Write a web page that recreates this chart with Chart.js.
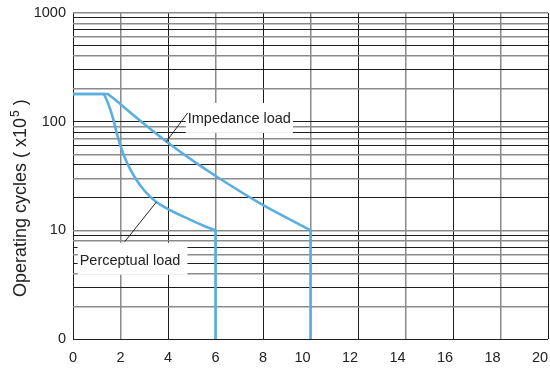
<!DOCTYPE html>
<html>
<head>
<meta charset="utf-8">
<script src="https://cdn.jsdelivr.net/npm/chart.js@4.4.1/dist/chart.umd.min.js"></script>
<style>
  html, body { margin: 0; padding: 0; background: #fff; }
  #wrap { width: 550px; height: 369px; }
</style>
</head>
<body>
<div id="wrap"><canvas id="chart" width="550" height="369"></canvas></div>
<script>
/* ============================================================
   DATA
============================================================ */
const impedanceX = [0, 1.47, 2.0, 2.6, 3.93, 5.12, 6.04, 7.86, 10, 10];
const impedanceY = [180, 180, 145, 112, 65.6, 42.6, 31.3, 17.8, 10, 1];
const impedanceCorners = [1, 8];   // sharp bends (index into the arrays)

const perceptualX = [0, 1.3, 1.48, 1.67, 1.84, 2.01, 2.25, 2.6, 3.02, 3.51, 4.0, 4.84, 5.55, 6, 6];
const perceptualY = [180, 180, 147, 110, 79, 59, 43, 30.8, 23, 18.2, 15.7, 12.8, 10.9, 10, 1];
const perceptualCorners = [1, 13];

const xTickLabels = ["0", "2", "4", "6", "8", "10", "12", "14", "16", "18", "20"];
const yTickValues = [1, 2, 3, 4, 5, 6, 7, 8, 9,
                     10, 20, 30, 40, 50, 60, 70, 80, 90,
                     100, 200, 300, 400, 500, 600, 700, 800, 900, 1000];
const yLabelValues = [1, 10, 100, 1000];
const yLabelTexts = ["0", "10", "100", "1000"];

const yTitle = ["Operating cycles ( x10", "5", " )"];

/* ============================================================
   STYLE
============================================================ */
const FONT_FAMILY = "'Liberation Sans', Arial, Helvetica, sans-serif";
const TEXT = "#222";
const BLUE = "#5aaee0";
const GRID_DARK = "#1e1e1e";
const GRID_LIGHT = "#8a8a8a";

// annotation labels: anchor = text left / vertical middle (data units)
const annotations = [
    { text: "Impedance load", x: 4.83, y: 106, toX: 3.93, toY: 65.6, fromDx: 0, fromDy: -6, pad: [2, 2, 16, 14] },
    { text: "Perceptual load", x: 0.28, y: 5.25, toX: 3.51, toY: 18.2, fromDx: 45, fromDy: -19, pad: [2, 7, 18, 14] }
];

// build points; a gap at every corner so the smoothing keeps the bend sharp
function toPoints(xs, ys, corners) {
    const pts = [];
    xs.forEach((v, i) => {
        pts.push({ x: v, y: ys[i] });
        if (corners.includes(i)) {
            pts.push({ x: v, y: null });
            pts.push({ x: v, y: ys[i] });
        }
    });
    return pts;
}

const labelPlugin = {
    id: "labelPlugin",
    afterDatasetsDraw(chart) {
        const { ctx } = chart;
        const sx = chart.scales.x, sy = chart.scales.y;
        ctx.save();
        ctx.font = "14.5px " + FONT_FAMILY;
        annotations.forEach(a => {
            const px = sx.getPixelForValue(a.x);
            const py = sy.getPixelForValue(a.y);
            const w = ctx.measureText(a.text).width;
            ctx.fillStyle = "#fff";
            ctx.fillRect(px - a.pad[0], py - a.pad[2], w + a.pad[0] + a.pad[1], a.pad[2] + a.pad[3]);
            ctx.strokeStyle = TEXT;
            ctx.lineWidth = 1;
            ctx.beginPath();
            ctx.moveTo(px + a.fromDx, py + a.fromDy);
            ctx.lineTo(sx.getPixelForValue(a.toX), sy.getPixelForValue(a.toY));
            ctx.stroke();
            ctx.fillStyle = TEXT;
            ctx.textAlign = "left";
            ctx.textBaseline = "middle";
            ctx.fillText(a.text, px, py);
        });
        ctx.restore();
    },
    afterDraw(chart) {
        // y axis title with superscript exponent
        const { ctx } = chart;
        const big = "18px " + FONT_FAMILY, small = "12px " + FONT_FAMILY;
        ctx.save();
        ctx.translate(21, 297);
        ctx.rotate(-Math.PI / 2);
        ctx.fillStyle = TEXT;
        ctx.textAlign = "left";
        ctx.textBaseline = "middle";
        let cx = 0;
        ctx.font = big;
        ctx.fillText(yTitle[0], cx, 0);
        cx += ctx.measureText(yTitle[0]).width + 1;
        ctx.font = small;
        ctx.fillText(yTitle[1], cx, -5);
        cx += ctx.measureText(yTitle[1]).width;
        ctx.font = big;
        ctx.fillText(yTitle[2], cx, 0);
        ctx.restore();
    }
};

const lineStyle = {
    borderColor: BLUE,
    borderWidth: 2.6,
    borderCapStyle: "round",
    borderJoinStyle: "round",
    pointRadius: 0,
    cubicInterpolationMode: "monotone",
    spanGaps: false,
    fill: false
};

new Chart(document.getElementById("chart"), {
    type: "line",
    data: {
        datasets: [
            { label: "Impedance load", data: toPoints(impedanceX, impedanceY, impedanceCorners), ...lineStyle },
            { label: "Perceptual load", data: toPoints(perceptualX, perceptualY, perceptualCorners), ...lineStyle }
        ]
    },
    options: {
        responsive: false,
        animation: false,
        events: [],
        layout: { padding: { left: 0, right: 2, top: 13, bottom: 0 } },
        plugins: { legend: { display: false }, tooltip: { enabled: false } },
        scales: {
            x: {
                type: "linear",
                min: 0,
                max: 20,
                border: { display: false },
                grid: {
                    drawTicks: false,
                    color: c => (c.tick && c.tick.value % 4 === 0) ? GRID_DARK : GRID_LIGHT,
                    lineWidth: c => (c.tick && c.tick.value % 4 === 0) ? 1 : 1.5
                },
                ticks: {
                    stepSize: 2,
                    padding: 10,
                    color: TEXT,
                    font: { family: FONT_FAMILY, size: 14.5 },
                    maxRotation: 0,
                    autoSkip: false,
                    // two-digit labels sit to the left of their grid line
                    callback: (v, i) => xTickLabels[i].length > 1 ? xTickLabels[i] + "    " : xTickLabels[i]
                },
                afterFit: s => { s.height = 30; s.paddingLeft = 0; s.paddingRight = 0; }
            },
            y: {
                type: "logarithmic",
                min: 1,
                max: 1000,
                border: { display: false },
                afterBuildTicks: s => { s.ticks = yTickValues.map(v => ({ value: v })); },
                grid: {
                    drawTicks: false,
                    color: c => (c.index % 2 === 0) ? GRID_DARK : GRID_LIGHT,
                    lineWidth: c => (c.index % 2 === 0) ? 1 : 1.5
                },
                ticks: {
                    padding: 7,
                    color: TEXT,
                    autoSkip: false,
                    font: { family: FONT_FAMILY, size: 14.5 },
                    callback: v => {
                        const i = yLabelValues.indexOf(v);
                        return i >= 0 ? yLabelTexts[i] : "";
                    }
                },
                afterFit: s => { s.width = 73; s.paddingTop = 0; s.paddingBottom = 0; }
            }
        }
    },
    plugins: [labelPlugin]
});
</script>
</body>
</html>
